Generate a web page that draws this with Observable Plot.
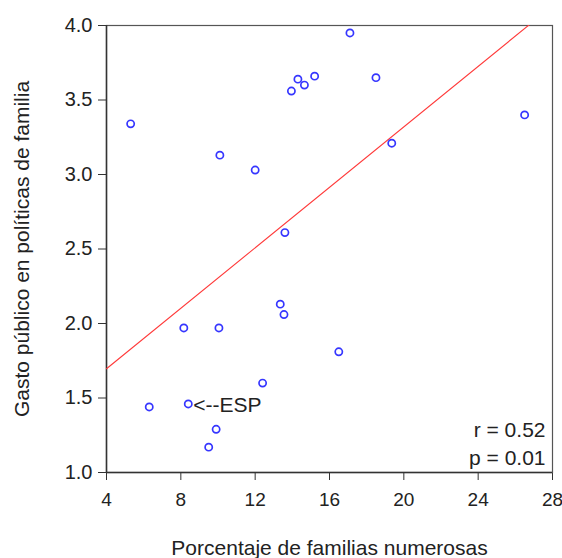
<!DOCTYPE html>
<html>
<head>
<meta charset="utf-8">
<script src="https://cdn.jsdelivr.net/npm/d3@7"></script>
<script src="https://cdn.jsdelivr.net/npm/@observablehq/plot@0.6"></script>
<style>
  html, body { margin: 0; padding: 0; background: #ffffff; }
  #chart { width: 562px; height: 558px; }
</style>
</head>
<body>
<div id="chart"></div>
<script>
// Porcentaje de familias numerosas (x) y gasto público en políticas de familia (y)
const pct   = [5.3, 10.1, 12.0, 13.6, 13.95, 14.3, 14.65, 15.2, 17.1, 18.5, 19.35, 26.5,
               8.16, 10.05, 13.35, 13.55, 12.4, 6.3, 8.4, 9.9, 9.5, 16.5];
const gasto = [3.34, 3.13, 3.03, 2.61, 3.56, 3.64, 3.60, 3.66, 3.95, 3.65, 3.21, 3.40,
               1.97, 1.97, 2.13, 2.06, 1.60, 1.44, 1.46, 1.29, 1.17, 1.81];
const etiquetas = ["", "", "", "", "", "", "", "", "", "", "", "",
                   "", "", "", "", "", "", "<--ESP", "", "", ""];
const xTicks = [4, 8, 12, 16, 20, 24, 28];
const yTicks = [1.0, 1.5, 2.0, 2.5, 3.0, 3.5, 4.0];
const xDomain = [4, 28];
const yDomain = [1, 4];
const estadisticos = ["r = 0.52", "p = 0.01"];
const tituloX = "Porcentaje de familias numerosas";
const tituloY = "Gasto público en políticas de familia";

const data = pct.map((x, i) => ({x, y: gasto[i], label: etiquetas[i]}));

// Recta de regresión por mínimos cuadrados, calculada a partir de los datos
const mx = d3.mean(pct), my = d3.mean(gasto);
const sxy = d3.sum(pct, (x, i) => (x - mx) * (gasto[i] - my));
const sxx = d3.sum(pct, x => (x - mx) ** 2);
const slope = sxy / sxx, intercept = my - slope * mx;
const reg = xDomain.map(x => ({x, y: intercept + slope * x}));

const chart = Plot.plot({
  width: 562,
  height: 558,
  marginLeft: 106,
  marginRight: 10,
  marginTop: 25,
  marginBottom: 86,
  x: {domain: xDomain},
  y: {domain: yDomain},
  style: {fontFamily: "'Liberation Sans', Arial, sans-serif", fontSize: "20px", color: "#222", background: "#ffffff", overflow: "visible"},
  marks: [
    Plot.axisX({ticks: xTicks, tickSize: 8, tickPadding: 12, label: null, stroke: "#333", fontSize: 19}),
    Plot.axisY({ticks: yTicks, tickFormat: d3.format(".1f"), tickSize: 8, tickPadding: 6, label: null, stroke: "#333"}),
    Plot.frame({stroke: "#555", strokeWidth: 1.2}),
    Plot.ruleX([xDomain[0]], {stroke: "#333", strokeWidth: 1.5}),
    Plot.ruleY([yDomain[0]], {stroke: "#333", strokeWidth: 1.5}),
    Plot.line(reg, {x: "x", y: "y", stroke: "#ff3a3a", strokeWidth: 1.1, clip: true}),
    Plot.dot(data, {x: "x", y: "y", r: 3.6, stroke: "#3636ff", strokeWidth: 1.7}),
    Plot.text(data.filter(d => d.label), {x: "x", y: "y", text: "label", dx: 5, dy: 1, textAnchor: "start", lineAnchor: "middle", fill: "#222", fontSize: 21}),
    Plot.text([estadisticos[0]], {frameAnchor: "bottom-right", dx: -7, dy: -42, textAnchor: "end", lineAnchor: "middle", fill: "#222", fontSize: 21}),
    Plot.text([estadisticos[1]], {frameAnchor: "bottom-right", dx: -7, dy: -14, textAnchor: "end", lineAnchor: "middle", fill: "#222", fontSize: 21}),
    Plot.text([tituloX], {frameAnchor: "bottom", dy: 76, textAnchor: "middle", lineAnchor: "middle", fill: "#222", fontSize: 21}),
    Plot.text([tituloY], {frameAnchor: "left", dx: -84, rotate: -90, textAnchor: "middle", lineAnchor: "middle", fill: "#222", fontSize: 21})
  ]
});
document.getElementById("chart").appendChild(chart);
</script>
</body>
</html>
